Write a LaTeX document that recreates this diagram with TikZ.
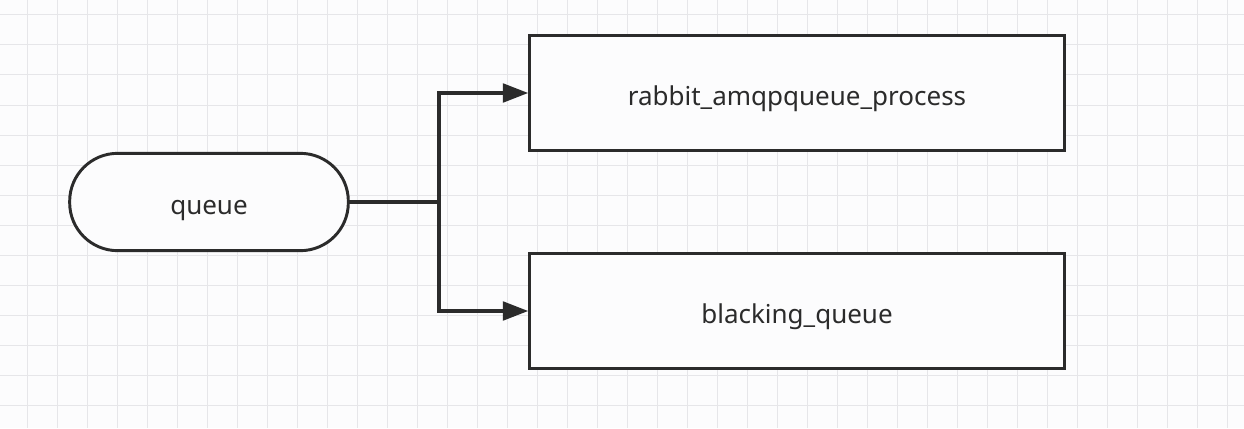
\documentclass[tikz,border=0pt]{standalone}
\usepackage{fontspec}
\setmainfont{Noto Sans}
\usetikzlibrary{arrows.meta}
\definecolor{gridbg}{HTML}{FCFCFD}
\definecolor{gridln}{HTML}{E6E6E9}
\definecolor{ink}{HTML}{2B2B2B}

\begin{document}
\begin{tikzpicture}[
    x=0.75pt, y=-0.75pt,
    grid line/.style={draw=gridln, line width=0.75pt},
    pill node/.style={rectangle, draw=ink, line width=2.2pt, rounded corners=36pt, fill=gridbg,
      minimum width=209pt, minimum height=73pt, text=ink, text height=21pt, text depth=3pt,
      font=\fontsize{19.5}{23}\selectfont},
    rect node/.style={rectangle, draw=ink, line width=2.2pt, fill=gridbg,
      minimum width=401pt, minimum height=86pt, text=ink, text height=21pt, text depth=3pt,
      font=\fontsize{19.5}{23}\selectfont},
    link/.style={draw=ink, line width=2.4pt},
    arrow link/.style={link, -{Triangle[length=19pt, width=14pt]}}
  ]
  \fill[gridbg] (0,0) rectangle (1244,428);
  \useasboundingbox (0,0) rectangle (1244,428);
  \foreach \gx in {27,57,...,1244} \draw[grid line] (\gx,0) -- (\gx,428);
  \foreach \gy in {15,45,...,428} \draw[grid line] (0,\gy) -- (1244,\gy);

  \node[pill node] (queue) at (209,202) {queue};
  \node[rect node] (process) at (797,93) {rabbit\_amqpqueue\_process};
  \node[rect node] (blocking) at (797,311) {blacking\_queue};
  \coordinate (fork) at (439,202);

  \draw[link] (queue.east) -- (fork);
  \draw[arrow link] (fork) |- (process.west);
  \draw[arrow link] (fork) |- (blocking.west);
\end{tikzpicture}
\end{document}
